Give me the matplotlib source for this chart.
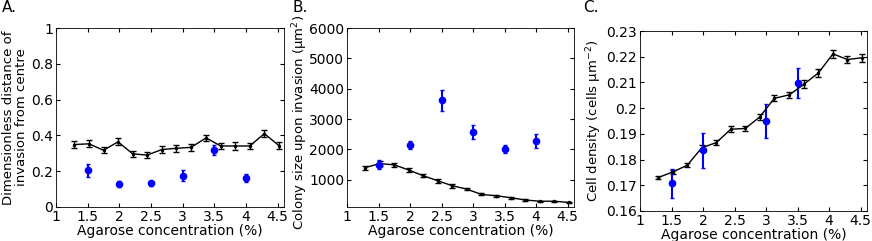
import numpy as np
from matplotlib import pyplot as plt

plt.rcParams['font.family'] = 'DejaVu Sans'
plt.rcParams['font.size'] = 10

# model series (black), sampled concentrations
conc_model = [1.29, 1.52, 1.75, 1.98, 2.21, 2.44, 2.67, 2.90, 3.13, 3.37,
              3.60, 3.83, 4.06, 4.29, 4.52]
# experiments (blue)
conc_exp = [1.5, 2.0, 2.5, 3.0, 3.5, 4.0]
conc_exp_c = [1.5, 2.0, 3.0, 3.5]

dist_model = [0.349, 0.353, 0.317, 0.364, 0.297, 0.290, 0.321, 0.328, 0.333,
              0.386, 0.341, 0.341, 0.341, 0.410, 0.343]
dist_model_err = [0.02, 0.02, 0.017, 0.02, 0.015, 0.015, 0.017, 0.02, 0.02,
                  0.018, 0.017, 0.02, 0.017, 0.018, 0.02]
dist_exp = [0.205, 0.130, 0.132, 0.175, 0.318, 0.160]
dist_exp_err = [0.035, 0.017, 0.015, 0.030, 0.030, 0.022]

size_model = [1400, 1530, 1490, 1318, 1130, 965, 800, 690, 515, 470,
              405, 330, 290, 290, 250]
size_model_err = [65, 70, 70, 75, 55, 70, 65, 45, 30, 30, 25, 20, 20, 20, 20]
size_exp = [1500, 2150, 3620, 2570, 2000, 2270]
size_exp_err = [140, 140, 340, 230, 130, 230]

dens_model = [0.1730, 0.1752, 0.1778, 0.1846, 0.1866, 0.1918, 0.1921, 0.1966,
              0.2038, 0.2052, 0.2093, 0.2137, 0.2211, 0.2189, 0.2196]
dens_model_err = [0.0007, 0.0008, 0.0007, 0.0012, 0.0010, 0.0012, 0.0009,
                  0.0012, 0.0012, 0.0012, 0.0015, 0.0015, 0.0015, 0.0015, 0.0015]
dens_exp = [0.1707, 0.1836, 0.1950, 0.2098]
dens_exp_err = [0.0058, 0.0068, 0.0068, 0.0058]

xticks = [1, 1.5, 2, 2.5, 3, 3.5, 4, 4.5]
xtick_labels = ['1', '1.5', '2', '2.5', '3', '3.5', '4', '4.5']


def style_axes(ax):
    ax.tick_params(direction='in', top=True, right=True, length=3, labelsize=10, pad=2)
    ax.set_xticks(xticks)
    ax.set_xticklabels(xtick_labels)
    ax.set_xlim(1, 4.6)
    for s in ax.spines.values():
        s.set_linewidth(0.6)
    ax.set_xlabel('Agarose concentration (%)', labelpad=0)


def draw(ax, ym, yme, ye, yee, xe):
    ax.errorbar(conc_model, ym, yerr=yme, color='black', lw=1.0, capsize=2,
                elinewidth=1.0, capthick=1.0, marker='.', markersize=3)
    ax.errorbar(xe, ye, yerr=yee, color='blue', lw=0, capsize=1.5,
                elinewidth=1.5, capthick=1.0, marker='o', markersize=4.5)


fig = plt.figure(figsize=(8.72, 2.41), dpi=100)

ax1 = fig.add_axes([56 / 872, 34 / 241, 228 / 872, 179 / 241])
draw(ax1, dist_model, dist_model_err, dist_exp, dist_exp_err, conc_exp)
style_axes(ax1)
ax1.set_ylim(0, 1)
ax1.set_yticks([0, 0.2, 0.4, 0.6, 0.8, 1])
ax1.set_yticklabels(['0', '0.2', '0.4', '0.6', '0.8', '1'])
ax1.set_ylabel('Dimensionless distance of\ninvasion from centre', fontsize=9.5,
               labelpad=2, linespacing=1.05)

ax2 = fig.add_axes([347 / 872, 34 / 241, 227 / 872, 179 / 241])
draw(ax2, size_model, size_model_err, size_exp, size_exp_err, conc_exp)
style_axes(ax2)
ax2.set_ylim(100, 6000)
ax2.set_yticks([1000, 2000, 3000, 4000, 5000, 6000])
ax2.set_ylabel(r'Colony size upon invasion (μm$^2$)', fontsize=9.5)
ax2.yaxis.set_label_coords(-0.165, 0.47)

ax3 = fig.add_axes([640 / 872, 30 / 241, 227 / 872, 180 / 241])
draw(ax3, dens_model, dens_model_err, dens_exp, dens_exp_err, conc_exp_c)
style_axes(ax3)
ax3.set_ylim(0.16, 0.23)
ax3.set_yticks([0.16, 0.17, 0.18, 0.19, 0.20, 0.21, 0.22, 0.23])
ax3.set_yticklabels(['0.16', '0.17', '0.18', '0.19', '0.2', '0.21', '0.22', '0.23'])
ax3.set_ylabel(r'Cell density (cells μm$^{-2}$)', fontsize=9.5, labelpad=2)

fig.text(2 / 872, 1 - 8 / 241, 'A.', fontsize=11, va='center')
fig.text(292 / 872, 1 - 8 / 241, 'B.', fontsize=11, va='center')
fig.text(583 / 872, 1 - 8 / 241, 'C.', fontsize=11, va='center')

fig.savefig('out.png', dpi=100)
